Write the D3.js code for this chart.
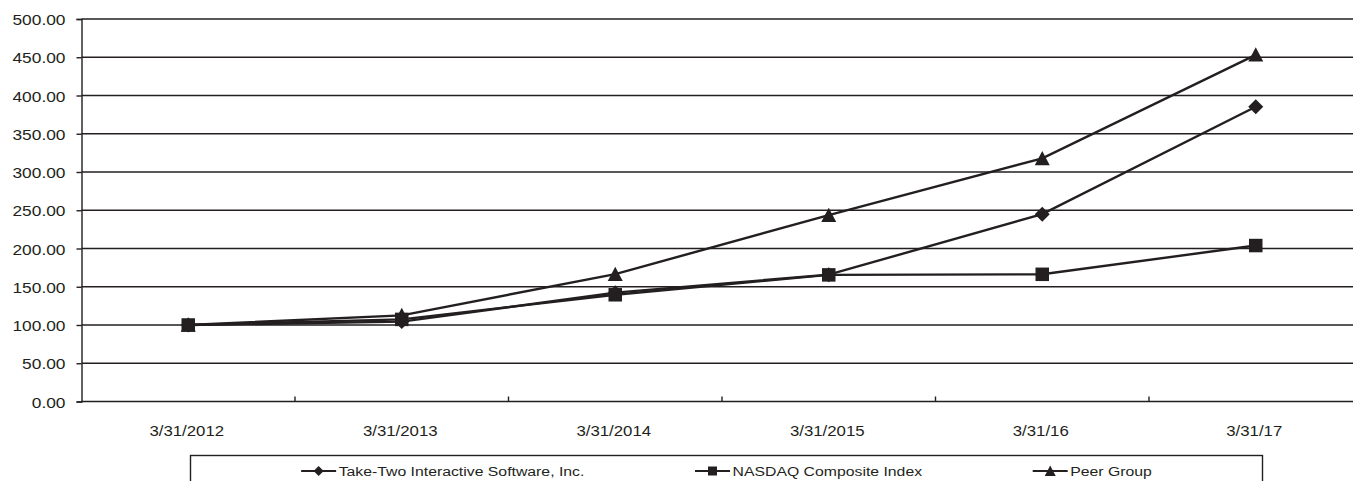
<!DOCTYPE html>
<html>
<head>
<meta charset="utf-8">
<script src="https://cdn.jsdelivr.net/npm/d3@7/dist/d3.min.js"></script>
<style>
  html, body { margin: 0; padding: 0; background: #fff; }
  svg { display: block; font-family: "Liberation Sans", Arial, sans-serif; }
</style>
</head>
<body>
<svg id="chart" width="1353" height="481"></svg>
<script>
// Cumulative total return, indexed to 100 at 3/31/2012
const categories = ["3/31/2012", "3/31/2013", "3/31/2014", "3/31/2015", "3/31/16", "3/31/17"];
const takeTwo = [100.00, 104.47, 142.27, 165.82, 244.87, 385.26];
const nasdaq  = [100.00, 107.33, 139.50, 165.51, 166.27, 203.86];
const peer    = [100.00, 112.60, 166.50, 243.60, 317.80, 453.20];
const seriesNames = ["Take-Two Interactive Software, Inc.", "NASDAQ Composite Index", "Peer Group"];
const yTicks = [0, 50, 100, 150, 200, 250, 300, 350, 400, 450, 500];

const ink = "#231f20";
const svg = d3.select("#chart");

const plotLeft = 81.5, plotTop = 19, plotBottom = 401.5;
const bandW = 213.5;
const x = d3.scaleBand().domain(categories).range([plotLeft, plotLeft + bandW * categories.length]);
const y = d3.scaleLinear().domain([0, 500]).range([plotBottom, plotTop]);

// text in this chart is set slightly wide
const stretch = 1.12;
function wideText(sel, px, py, anchor) {
  sel.attr("transform", `translate(${px},${py}) scale(${stretch},1)`).attr("text-anchor", anchor);
}

// horizontal gridlines
svg.append("g").selectAll("line").data(yTicks.slice(1)).join("line")
  .attr("x1", plotLeft).attr("x2", 1353)
  .attr("y1", d => y(d)).attr("y2", d => y(d))
  .attr("stroke", ink).attr("stroke-width", 1.4);

// y axis
const yAxis = svg.append("g").attr("transform", `translate(${plotLeft},0)`)
  .call(d3.axisLeft(y).tickValues(yTicks).tickFormat(d3.format(".2f")).tickSize(5).tickPadding(6));
yAxis.select(".domain").attr("stroke", ink).attr("stroke-width", 1.4);
yAxis.selectAll(".tick line").attr("stroke", ink).attr("stroke-width", 1.4);
yAxis.selectAll(".tick text").each(function () {
  const t = d3.select(this);
  t.attr("x", null).attr("dy", "0.36em").attr("font-size", 15.5).attr("fill", ink)
    .attr("font-family", "Liberation Sans, Arial, sans-serif");
  wideText(t, -16, 0, "end");
});

// x axis: baseline, inward ticks between categories, labels centred on bands
svg.append("line").attr("x1", plotLeft).attr("x2", 1353).attr("y1", plotBottom).attr("y2", plotBottom)
  .attr("stroke", ink).attr("stroke-width", 1.4);
svg.append("g").selectAll("line").data(categories.slice(1)).join("line")
  .attr("x1", d => x(d)).attr("x2", d => x(d))
  .attr("y1", plotBottom).attr("y2", plotBottom - 5)
  .attr("stroke", ink).attr("stroke-width", 1.4);
svg.append("g").selectAll("text").data(categories).join("text")
  .attr("font-size", 15).attr("fill", ink)
  .each(function (d) { wideText(d3.select(this), x(d) + x.bandwidth() / 2 - 1.5, 436, "middle"); })
  .text(d => d);

const cx = d => x(d) + x.bandwidth() / 2;
const line = d3.line().x((d, i) => cx(categories[i])).y(d => y(d));

// marker shapes: rotated square, square, upward triangle (r = half width)
const shapes = [
  r => `M0,${-r}L${r},0L0,${r}L${-r},0Z`,
  r => `M${-r * 0.9},${-r * 0.9}H${r * 0.9}V${r * 0.9}H${-r * 0.9}Z`,
  r => `M0,${-r}L${r},${r * 0.9}H${-r}Z`
];
const allSeries = [takeTwo, nasdaq, peer];

allSeries.forEach((vals, si) => {
  const g = svg.append("g");
  g.append("path").attr("d", line(vals)).attr("fill", "none")
    .attr("stroke", ink).attr("stroke-width", 2.4);
  g.selectAll("path.m").data(vals).join("path").attr("class", "m")
    .attr("transform", (d, i) => `translate(${cx(categories[i])},${y(d)})`)
    .attr("d", shapes[si](7.5)).attr("fill", ink);
});

// legend: entries spread with equal gaps across the box
const legendBox = { x: 190.5, y: 455.5, w: 1072, h: 40 };
svg.append("rect").attr("x", legendBox.x).attr("y", legendBox.y)
  .attr("width", legendBox.w).attr("height", legendBox.h)
  .attr("fill", "none").attr("stroke", ink).attr("stroke-width", 1.4);
const keyLen = 35, keyGap = 2.5, textScale = 1.17;
const entries = seriesNames.map((name, i) => {
  const g = svg.append("g");
  g.append("line").attr("x1", 0).attr("x2", keyLen).attr("y1", 0).attr("y2", 0)
    .attr("stroke", ink).attr("stroke-width", 2.2);
  g.append("path").attr("transform", `translate(${keyLen / 2},0)`)
    .attr("d", shapes[i]([5, 5, 5.5][i])).attr("fill", ink);
  const t = g.append("text").attr("font-size", 13.5).attr("fill", ink).text(name)
    .attr("transform", `translate(${keyLen + keyGap},5) scale(${textScale},1)`);
  const w = keyLen + keyGap + t.node().getComputedTextLength() * textScale;
  return { g, w };
});
const totalW = d3.sum(entries, e => e.w);
const gap = (legendBox.w - totalW) / (entries.length + 1);
let cursor = legendBox.x + gap;
entries.forEach(e => {
  e.g.attr("transform", `translate(${cursor},471)`);
  cursor += e.w + gap;
});
</script>
</body>
</html>
